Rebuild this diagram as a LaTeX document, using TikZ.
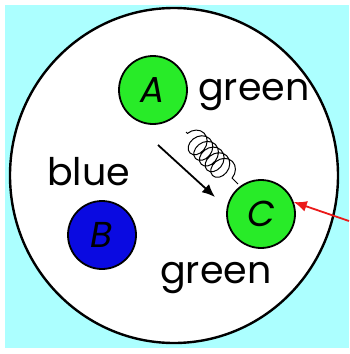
\documentclass[tikz,border=0pt]{standalone}
\usepackage{fontspec}
\setmainfont{Poppins}
\usetikzlibrary{arrows.meta, decorations.pathmorphing}
\definecolor{skycyan}{RGB}{172,255,255}
\definecolor{ballgreen}{RGB}{40,235,40}
\definecolor{ballblue}{RGB}{10,10,225}
\definecolor{pointred}{RGB}{235,25,25}

\begin{document}
\begin{tikzpicture}[x=1pt, y=-1pt,
  ball/.style={circle, draw=black, line width=1.8pt, minimum size=68pt,
               inner sep=0pt, font=\fontsize{36}{36}\selectfont},
  word/.style={font=\fontsize{38}{38}\selectfont, inner sep=0pt, anchor=base west},
  arrow/.style={-{Latex[length=13pt, width=11pt]}, line width=1.8pt},
  spring/.style={decorate, line width=1pt,
                 decoration={coil, amplitude=12pt, segment length=8pt, aspect=0.8,
                             pre length=2pt, post length=6pt}}
]
\useasboundingbox (0,0) rectangle (349,354);
\fill[skycyan] (5,5) rectangle (349,348);
\draw[fill=white, line width=2.4pt] (174,175.5) ellipse [x radius=164, y radius=167.5];

% the three balls
\node[ball, fill=ballgreen] (A) at (153,90) {\itshape A};
\node[ball, fill=ballblue] (B) at (102,235) {\itshape B};
\node[ball, fill=ballgreen] (C) at (261,214) {\itshape C};

% colour words
\node[word] (Aword) at (198,100) {green};
\node[word] (Bword) at (47,185) {blue};
\node[word] (Cword) at (160,283) {green};

\coordinate (springtop) at (186,132);
\coordinate (springend) at (238,184);
\coordinate (movetail) at (158,145);
\coordinate (movehead) at (215,197);
\coordinate (redtail) at (349,221);

\draw[spring] (springtop) -- (springend);
\draw[arrow] (movetail) -- (movehead);
\draw[arrow, pointred] (redtail) -- (C.20);

\end{tikzpicture}
\end{document}
